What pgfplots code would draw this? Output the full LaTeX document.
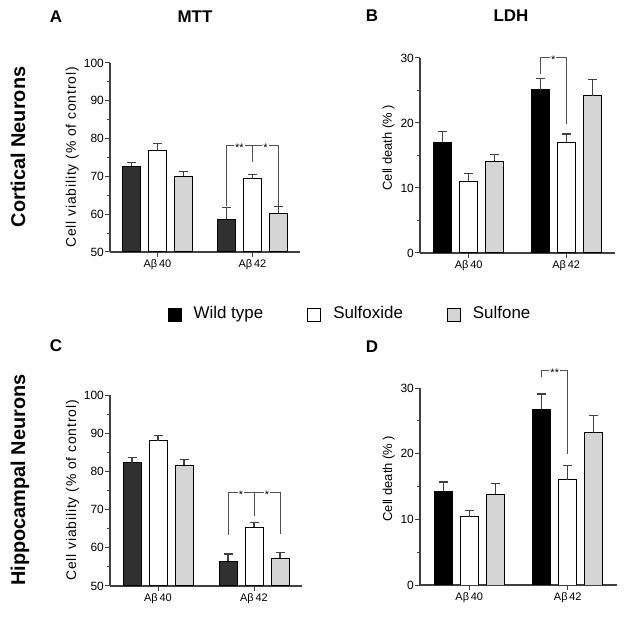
\documentclass[border=0pt]{standalone}
\usepackage{fontspec}
\setmainfont{Liberation Sans}
\usepackage{pgfplots}
\pgfplotsset{compat=1.18}

\definecolor{wtA}{HTML}{303030}
\definecolor{sulf}{HTML}{D4D4D4}
\definecolor{axgray}{HTML}{404040}
\definecolor{brgray}{HTML}{505050}

\tikzset{
 br/.style={brgray, line width=1bp},
 st/.style={font=\fontsize{11}{13}\selectfont, fill=white, inner sep=1bp, anchor=base, yshift=-6bp},
}
\pgfplotsset{
 panel/.style={
  scale only axis,
  ybar=8bp, bar width=18bp,
  enlargelimits=false,
  xmin=0.5, xmax=2.5,
  xtick={1,2}, xticklabels={Aβ\,40, Aβ\,42},
  axis lines*=left,
  axis line style={axgray, line width=1.2bp},
  tick style={axgray, line width=1bp},
  tick align=outside,
  major tick length=5bp, minor tick length=3bp,
  minor y tick num=1,
  /pgf/number format/assume math mode=true,
  yticklabel style={font=\fontsize{12}{14}\selectfont, inner sep=1bp},
  xticklabel style={font=\fontsize{11}{13}\selectfont, inner sep=2bp},
  ylabel style={anchor=base},
  clip mode=individual,
  error bars/y dir=plus, error bars/y explicit,
  error bars/error bar style={line width=1.2bp, axgray},
  error bars/error mark options={rotate=90, mark size=4.5bp, line width=1.2bp, axgray},
 },
 mttlabel/.style={ylabel style={font=\fontsize{14}{16}\selectfont\addfontfeatures{LetterSpace=6}}},
 ldhlabel/.style={ylabel style={font=\fontsize{13}{15}\selectfont}},
 wt/.style={fill=#1, draw=black, line width=1bp},
 sx/.style={fill=white, draw=black, line width=1bp},
 sn/.style={fill=sulf, draw=black, line width=1bp},
}

\begin{document}
\begin{tikzpicture}
\useasboundingbox (0,0) rectangle (629bp,617bp);

% ---------- Panel A: MTT cortical
\begin{axis}[panel, mttlabel, at={(110bp,365bp)}, anchor=south west,
  width=190bp, height=189bp, ymin=50, ymax=100, ytick={50,60,...,100},
  ylabel={Cell viability (\% of control)},
  ylabel style={at={(axis description cs:-0.179,0.5)}}]
\addplot[wt=wtA] coordinates {(1,72.7) +- (0,1.0) (2,58.6) +- (0,3.1)};
\addplot[sx] coordinates {(1,76.8) +- (0,1.9) (2,69.4) +- (0,1.1)};
\addplot[sn] coordinates {(1,70.1) +- (0,1.1) (2,60.2) +- (0,1.8)};
\draw[br] ([xshift=-26bp]axis cs:2,62.2) -- ([xshift=-26bp]axis cs:2,78.1) -- ([xshift=26bp]axis cs:2,78.1) -- ([xshift=26bp]axis cs:2,62.3);
\draw[br] (axis cs:2,78.1) -- (axis cs:2,73.9);
\node[st] at ([xshift=-13bp]axis cs:2,78.1) {**};
\node[st] at ([xshift=13bp]axis cs:2,78.1) {*};
\end{axis}

% ---------- Panel B: LDH cortical
\begin{axis}[panel, ldhlabel, at={(420bp,364bp)}, anchor=south west,
  width=195bp, height=195bp, ymin=0, ymax=30, ytick={0,10,20,30},
  ylabel={Cell death (\% )},
  ylabel style={at={(axis description cs:-0.144,0.54)}},
  legend style={at={(-0.359,-0.308)}, anchor=center, draw=none, fill=none,
    legend columns=3, font=\fontsize{17}{20}\selectfont,
    /tikz/every odd column/.append style={column sep=10bp},
    /tikz/every even column/.append style={column sep=42bp}},
  legend image code/.code={\draw[#1, draw=black, line width=1bp] (0bp,-8bp) rectangle (13bp,5bp);}]
\addplot[wt=black] coordinates {(1,17.0) +- (0,1.7) (2,25.1) +- (0,1.8)};
\addplot[sx] coordinates {(1,11.0) +- (0,1.2) (2,17.0) +- (0,1.3)};
\addplot[sn] coordinates {(1,14.1) +- (0,1.0) (2,24.2) +- (0,2.5)};
\legend{Wild type, Sulfoxide, Sulfone}
\draw[br] ([xshift=-26bp]axis cs:2,27.6) -- ([xshift=-26bp]axis cs:2,30.1) -- (axis cs:2,30.1) -- (axis cs:2,19.9);
\node[st] at ([xshift=-13bp]axis cs:2,30.1) {*};
\end{axis}

% ---------- Panel C: MTT hippocampal
\begin{axis}[panel, mttlabel, at={(110bp,31bp)}, anchor=south west,
  width=192bp, height=191bp, ymin=50, ymax=100, ytick={50,60,...,100},
  ylabel={Cell viability (\% of control)},
  ylabel style={at={(axis description cs:-0.177,0.5)}}]
\addplot[wt=wtA] coordinates {(1,82.3) +- (0,1.4) (2,56.5) +- (0,1.9)};
\addplot[sx] coordinates {(1,88.0) +- (0,1.5) (2,65.4) +- (0,1.3)};
\addplot[sn] coordinates {(1,81.6) +- (0,1.6) (2,57.2) +- (0,1.5)};
\draw[br] ([xshift=-26bp]axis cs:2,63.3) -- ([xshift=-26bp]axis cs:2,74.6) -- ([xshift=26bp]axis cs:2,74.6) -- ([xshift=26bp]axis cs:2,63.5);
\draw[br] (axis cs:2,74.6) -- (axis cs:2,68.3);
\node[st] at ([xshift=-13bp]axis cs:2,74.6) {*};
\node[st] at ([xshift=13bp]axis cs:2,74.6) {*};
\end{axis}

% ---------- Panel D: LDH hippocampal
\begin{axis}[panel, ldhlabel, at={(420bp,32bp)}, anchor=south west,
  width=197bp, height=197bp, ymin=0, ymax=30, ytick={0,10,20,30},
  ylabel={Cell death (\% )},
  ylabel style={at={(axis description cs:-0.142,0.54)}}]
\addplot[wt=black] coordinates {(1,14.3) +- (0,1.4) (2,26.8) +- (0,2.3)};
\addplot[sx] coordinates {(1,10.4) +- (0,0.95) (2,16.0) +- (0,2.2)};
\addplot[sn] coordinates {(1,13.8) +- (0,1.6) (2,23.2) +- (0,2.6)};
\draw[br] ([xshift=-26bp]axis cs:2,31.6) -- ([xshift=-26bp]axis cs:2,32.6) -- (axis cs:2,32.6) -- (axis cs:2,20.0);
\node[st] at ([xshift=-13bp]axis cs:2,32.6) {**};
\end{axis}

% ---------- titles and labels
\begin{scope}[every node/.style={font=\fontsize{17}{20}\selectfont\bfseries, anchor=base}]
\node at (56bp,594bp) {A};
\node at (195bp,594bp) {MTT};
\node at (372bp,595bp) {B};
\node at (511bp,595bp) {LDH};
\node at (56bp,265bp) {C};
\node at (372bp,264bp) {D};
\end{scope}
\node[font=\fontsize{20}{24}\selectfont\bfseries, rotate=90, anchor=base] at (25bp,470bp) {Cortical Neurons};
\node[font=\fontsize{20}{24}\selectfont\bfseries, rotate=90, anchor=base] at (25bp,137bp) {Hippocampal Neurons};
\end{tikzpicture}
\end{document}
